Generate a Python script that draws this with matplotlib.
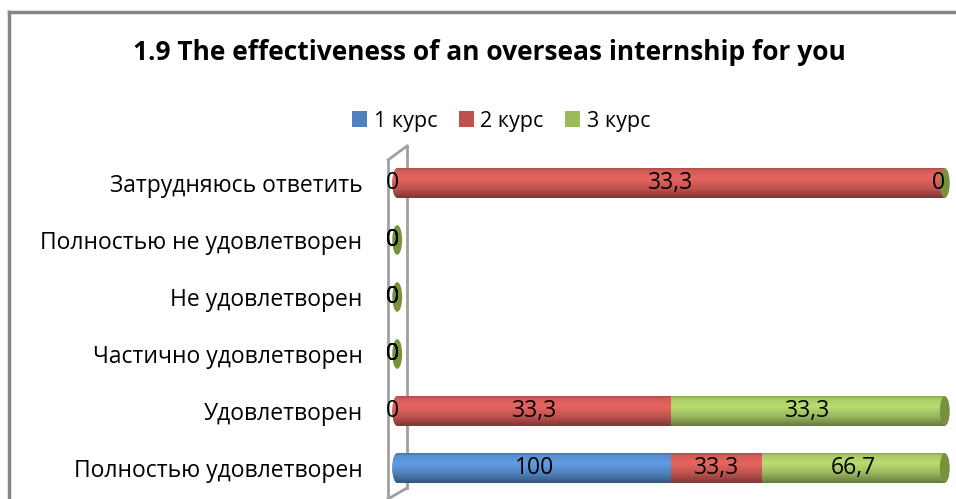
import numpy as np
import matplotlib as mpl
import matplotlib.pyplot as plt
from matplotlib.patches import Ellipse, Patch
from matplotlib.lines import Line2D

mpl.use('Agg')
plt.rcParams['font.family'] = ['Open Sans', 'DejaVu Sans']

# --- data ---------------------------------------------------------------------------------------
categories = ['Полностью удовлетворен', 'Удовлетворен', 'Частично удовлетворен',
              'Не удовлетворен', 'Полностью не удовлетворен', 'Затрудняюсь ответить']
series = ['1 курс', '2 курс', '3 курс']
kurs1 = [100, 0, 0, 0, 0, 0]
kurs2 = [33.3, 33.3, 0, 0, 0, 33.3]
kurs3 = [66.7, 33.3, 0, 0, 0, 0]
title = '1.9 The effectiveness of an overseas internship for you'

# --- style --------------------------------------------------------------------------------------
LEGEND_COLS = ['#4F81BD', '#C0504D', '#9BBB59']
BAR_COLS = ['#5B93D6', '#DA5F5B', '#AFD06A']
CAP_COLS = ['#3F6797', '#97403D', '#76923C']
BAR_H = 0.52
CAP_W = 1.8
FS = 16.5
XMIN, XMAX = -1.5, 101.5


def shade_patch(ax, patch, colour, x0, x1, y0, y1):
    # vertical cylinder shading clipped to the patch
    t = np.linspace(0, 1, 64)
    f = np.interp(t, [0, 0.08, 0.35, 0.7, 1.0], [0.80, 0.97, 1.06, 0.86, 0.58])
    rgb = np.array(mpl.colors.to_rgb(colour))
    img = np.clip(rgb[None, :] * f[:, None], 0, 1)[:, None, :]
    im = ax.imshow(img, extent=[x0, x1, y0, y1], aspect='auto',
                   interpolation='bilinear', zorder=patch.get_zorder())
    im.set_clip_path(patch)


fig = plt.figure(figsize=(9.56, 4.99), dpi=100)
# x = 0 sits at ~397 px, x = 100 at ~945 px
ax = fig.add_axes([389 / 956, 1 - 496.5 / 499, 564 / 956, (496.5 - 154.5) / 499])
ax.set_zorder(2)

data = np.array([kurs1, kurs2, kurs3], dtype=float)
totals = data.sum(axis=0)
pct = np.where(totals > 0, data / np.where(totals > 0, totals, 1) * 100, 0)
ypos = np.arange(len(categories))

for j, y in enumerate(ypos):
    left = 0.0
    first = None
    for i in range(len(series)):
        w = pct[i, j]
        if w > 0:
            if first is None:
                first = i
            bar = ax.barh(y, w, left=left, height=BAR_H, color=BAR_COLS[i],
                          linewidth=0, zorder=3)[0]
            shade_patch(ax, bar, BAR_COLS[i], left, left + w, y - BAR_H / 2, y + BAR_H / 2)
        left += w
    # rounded back end of the cylinder
    if first is not None:
        e = Ellipse((0, y), CAP_W, BAR_H, color=BAR_COLS[first], linewidth=0, zorder=2)
        ax.add_patch(e)
        shade_patch(ax, e, BAR_COLS[first], -CAP_W / 2, CAP_W / 2, y - BAR_H / 2, y + BAR_H / 2)
    # front cap in the colour of the last series
    ax.add_patch(Ellipse((left, y), CAP_W, BAR_H, color=CAP_COLS[-1], linewidth=0, zorder=4))

    # value labels
    left = 0.0
    for i in range(len(series)):
        w = pct[i, j]
        v = data[i, j]
        xt = left + w / 2
        if w == 0 and left >= 100:
            xt = 98.8
        elif w == 0:
            xt = left - 0.8
        txt = f'{v:g}'.replace('.', ',')
        ax.text(xt, y, txt, ha='center', va='center', fontsize=FS, color='black', zorder=6)
        left += w

ax.set_xlim(XMIN, XMAX)
ax.set_ylim(-0.5, 5.5)
ax.set_yticks(ypos)
ax.set_yticklabels(categories, fontsize=FS)
ax.tick_params(axis='y', length=0, pad=19)
ax.set_xticks([])
for s in ax.spines.values():
    s.set_visible(False)
ax.patch.set_alpha(0)

# 3D wall behind the bars
wall = dict(color='#A0A0A0', lw=2, transform=fig.transFigure, zorder=1)
px = lambda x: x / 956
py = lambda y: 1 - y / 499
fig.add_artist(Line2D([px(388), px(388)], [py(160), py(499)], **wall))
fig.add_artist(Line2D([px(388), px(407)], [py(160), py(146)], **wall))
fig.add_artist(Line2D([px(407), px(407)], [py(146), py(488)], **wall))
fig.add_artist(Line2D([px(407), px(388)], [py(488), py(499)], **wall))

# chart frame
frame = dict(color='#868686', lw=2.5, transform=fig.transFigure)
fig.add_artist(Line2D([px(9), px(9)], [py(12), py(499)], **frame))
fig.add_artist(Line2D([px(9), px(956)], [py(12), py(12)], **frame))

fig.text(489 / 956, py(53), title, ha='center', va='center', fontsize=19, fontweight='bold')

handles = [Patch(facecolor=c, edgecolor='none', label=s) for c, s in zip(LEGEND_COLS, series)]
fig.legend(handles=handles, loc='center', bbox_to_anchor=(501 / 956, py(121)), ncol=3,
           frameon=False, fontsize=15.5, handlelength=0.7, handleheight=0.7,
           handletextpad=0.3, columnspacing=1.0)

fig.savefig('out.png', dpi=100)
